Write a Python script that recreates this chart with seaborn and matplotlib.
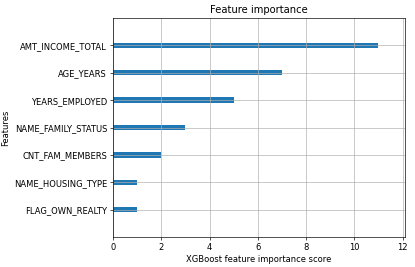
import matplotlib
matplotlib.use("Agg")
import matplotlib.pyplot as plt
import seaborn as sns
import pandas as pd

features = ["AMT_INCOME_TOTAL", "AGE_YEARS", "YEARS_EMPLOYED", "NAME_FAMILY_STATUS",
            "CNT_FAM_MEMBERS", "NAME_HOUSING_TYPE", "FLAG_OWN_REALTY"]
scores = [11, 7, 5, 3, 2, 1, 1]

df = pd.DataFrame({"feature": features, "score": scores})

dpi = 60
fig = plt.figure(figsize=(415 / dpi, 267 / dpi), dpi=dpi)
ax = fig.add_axes([113 / 415, 1 - 237 / 267, (405 - 113) / 415, (237 - 18) / 267])

sns.barplot(data=df, x="score", y="feature", orient="h", color="C0",
            saturation=1, width=0.2, ax=ax)

n = len(features)
ax.set_ylim(n, -1)
ax.set_xlim(0, max(scores) * 1.1)
ax.set_title("Feature importance")
ax.set_xlabel("XGBoost feature importance score")
ax.set_ylabel("Features")
ax.grid(True)
ax.xaxis.grid(True)
ax.yaxis.grid(True)

fig.savefig("out.png", dpi=dpi)
